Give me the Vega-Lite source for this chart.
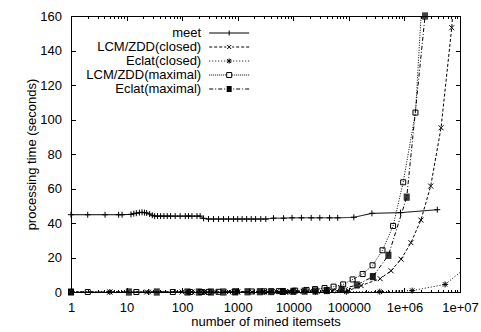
{
  "$schema": "https://vega.github.io/schema/vega-lite/v6.json",
  "width": 389,
  "height": 276,
  "autosize": {"type": "none"},
  "padding": {"left": 71, "top": 16, "right": 21, "bottom": 40},
  "background": "white",
  "config": {
    "view": {"stroke": "black", "strokeWidth": 1},
    "font": "Liberation Sans",
    "axis": {"labelFont": "Liberation Sans", "labelFontSize": 13, "titleFont": "Liberation Sans", "titleFontSize": 13, "titleFontWeight": "normal", "labelColor": "black", "titleColor": "black", "tickColor": "black", "tickWidth": 1, "domain": false, "grid": false}
  },
  "data": {"values": [
    {"s": "meet", "x": 1, "t": 44.8}, {"s": "meet", "x": 2, "t": 44.8}, {"s": "meet", "x": 4.1, "t": 44.8}, {"s": "meet", "x": 7.2, "t": 44.8}, {"s": "meet", "x": 8.3, "t": 44.8},
    {"s": "meet", "x": 12, "t": 45}, {"s": "meet", "x": 13.5, "t": 45.4}, {"s": "meet", "x": 15, "t": 45.7}, {"s": "meet", "x": 17, "t": 46}, {"s": "meet", "x": 19, "t": 46.2},
    {"s": "meet", "x": 21, "t": 46}, {"s": "meet", "x": 23, "t": 45.8}, {"s": "meet", "x": 26, "t": 45.2}, {"s": "meet", "x": 29, "t": 44.5}, {"s": "meet", "x": 32, "t": 44},
    {"s": "meet", "x": 36, "t": 44}, {"s": "meet", "x": 41, "t": 44}, {"s": "meet", "x": 47, "t": 44}, {"s": "meet", "x": 54, "t": 44}, {"s": "meet", "x": 62, "t": 44},
    {"s": "meet", "x": 75, "t": 44}, {"s": "meet", "x": 92, "t": 44}, {"s": "meet", "x": 114, "t": 44}, {"s": "meet", "x": 130, "t": 44}, {"s": "meet", "x": 150, "t": 44},
    {"s": "meet", "x": 185, "t": 44}, {"s": "meet", "x": 211, "t": 44}, {"s": "meet", "x": 243, "t": 42.7}, {"s": "meet", "x": 298, "t": 42.3}, {"s": "meet", "x": 367, "t": 42.3},
    {"s": "meet", "x": 452, "t": 42.3}, {"s": "meet", "x": 556, "t": 42.3}, {"s": "meet", "x": 684, "t": 42.3}, {"s": "meet", "x": 841, "t": 42.3}, {"s": "meet", "x": 1000, "t": 42.3},
    {"s": "meet", "x": 1200, "t": 42.3}, {"s": "meet", "x": 1450, "t": 42.3}, {"s": "meet", "x": 1750, "t": 42.3}, {"s": "meet", "x": 2100, "t": 42.3}, {"s": "meet", "x": 2600, "t": 42.3},
    {"s": "meet", "x": 3200, "t": 42.3}, {"s": "meet", "x": 4400, "t": 42.8}, {"s": "meet", "x": 6700, "t": 42.8}, {"s": "meet", "x": 9500, "t": 43}, {"s": "meet", "x": 14000, "t": 43},
    {"s": "meet", "x": 21000, "t": 43}, {"s": "meet", "x": 30000, "t": 43}, {"s": "meet", "x": 45000, "t": 43}, {"s": "meet", "x": 63000, "t": 43}, {"s": "meet", "x": 123000, "t": 43.3},
    {"s": "meet", "x": 260000, "t": 45.6}, {"s": "meet", "x": 850000, "t": 46}, {"s": "meet", "x": 3900000, "t": 47.7},

    {"s": "LCM/ZDD(closed)", "x": 1, "t": 0}, {"s": "LCM/ZDD(closed)", "x": 5, "t": 0}, {"s": "LCM/ZDD(closed)", "x": 23, "t": 0}, {"s": "LCM/ZDD(closed)", "x": 100, "t": 0},
    {"s": "LCM/ZDD(closed)", "x": 150, "t": 0}, {"s": "LCM/ZDD(closed)", "x": 250, "t": 0}, {"s": "LCM/ZDD(closed)", "x": 400, "t": 0}, {"s": "LCM/ZDD(closed)", "x": 700, "t": 0},
    {"s": "LCM/ZDD(closed)", "x": 1000, "t": 0.05}, {"s": "LCM/ZDD(closed)", "x": 1800, "t": 0.1}, {"s": "LCM/ZDD(closed)", "x": 3000, "t": 0.15}, {"s": "LCM/ZDD(closed)", "x": 5000, "t": 0.2},
    {"s": "LCM/ZDD(closed)", "x": 8500, "t": 0.3}, {"s": "LCM/ZDD(closed)", "x": 15000, "t": 0.4}, {"s": "LCM/ZDD(closed)", "x": 27000, "t": 0.5}, {"s": "LCM/ZDD(closed)", "x": 50000, "t": 0.6},
    {"s": "LCM/ZDD(closed)", "x": 98000, "t": 0.8}, {"s": "LCM/ZDD(closed)", "x": 166000, "t": 3.7}, {"s": "LCM/ZDD(closed)", "x": 366000, "t": 7.7}, {"s": "LCM/ZDD(closed)", "x": 575000, "t": 12.3},
    {"s": "LCM/ZDD(closed)", "x": 870000, "t": 19}, {"s": "LCM/ZDD(closed)", "x": 1310000, "t": 28.6}, {"s": "LCM/ZDD(closed)", "x": 1980000, "t": 41.7}, {"s": "LCM/ZDD(closed)", "x": 2970000, "t": 61.4},
    {"s": "LCM/ZDD(closed)", "x": 4560000, "t": 95.2}, {"s": "LCM/ZDD(closed)", "x": 7100000, "t": 153.2}, {"s": "LCM/ZDD(closed)", "x": 11000000, "t": 245},

    {"s": "Eclat(closed)", "x": 1, "t": 0}, {"s": "Eclat(closed)", "x": 5, "t": 0}, {"s": "Eclat(closed)", "x": 25, "t": 0}, {"s": "Eclat(closed)", "x": 130, "t": 0},
    {"s": "Eclat(closed)", "x": 250, "t": 0}, {"s": "Eclat(closed)", "x": 1000, "t": 0}, {"s": "Eclat(closed)", "x": 3000, "t": 0}, {"s": "Eclat(closed)", "x": 8000, "t": 0},
    {"s": "Eclat(closed)", "x": 25000, "t": 0}, {"s": "Eclat(closed)", "x": 90000, "t": 0.1}, {"s": "Eclat(closed)", "x": 360000, "t": 0.2}, {"s": "Eclat(closed)", "x": 1380000, "t": 0.8},
    {"s": "Eclat(closed)", "x": 5400000, "t": 4.4}, {"s": "Eclat(closed)", "x": 18000000, "t": 18},

    {"s": "LCM/ZDD(maximal)", "x": 1, "t": 0}, {"s": "LCM/ZDD(maximal)", "x": 2, "t": 0}, {"s": "LCM/ZDD(maximal)", "x": 15, "t": 0}, {"s": "LCM/ZDD(maximal)", "x": 68, "t": 0},
    {"s": "LCM/ZDD(maximal)", "x": 140, "t": 0}, {"s": "LCM/ZDD(maximal)", "x": 220, "t": 0}, {"s": "LCM/ZDD(maximal)", "x": 300, "t": 0.05}, {"s": "LCM/ZDD(maximal)", "x": 450, "t": 0.1},
    {"s": "LCM/ZDD(maximal)", "x": 900, "t": 0.2}, {"s": "LCM/ZDD(maximal)", "x": 1800, "t": 0.3}, {"s": "LCM/ZDD(maximal)", "x": 3000, "t": 0.4}, {"s": "LCM/ZDD(maximal)", "x": 5500, "t": 0.5},
    {"s": "LCM/ZDD(maximal)", "x": 10800, "t": 0.8}, {"s": "LCM/ZDD(maximal)", "x": 17300, "t": 1.2}, {"s": "LCM/ZDD(maximal)", "x": 24600, "t": 1.7}, {"s": "LCM/ZDD(maximal)", "x": 36500, "t": 2.3},
    {"s": "LCM/ZDD(maximal)", "x": 53000, "t": 3.1}, {"s": "LCM/ZDD(maximal)", "x": 79000, "t": 4.4}, {"s": "LCM/ZDD(maximal)", "x": 117000, "t": 7.3}, {"s": "LCM/ZDD(maximal)", "x": 177000, "t": 10.4},
    {"s": "LCM/ZDD(maximal)", "x": 267000, "t": 15.5}, {"s": "LCM/ZDD(maximal)", "x": 403000, "t": 24.2}, {"s": "LCM/ZDD(maximal)", "x": 625000, "t": 38.3}, {"s": "LCM/ZDD(maximal)", "x": 950000, "t": 63.6},
    {"s": "LCM/ZDD(maximal)", "x": 1580000, "t": 104}, {"s": "LCM/ZDD(maximal)", "x": 2400000, "t": 205},

    {"s": "Eclat(maximal)", "x": 1, "t": 0}, {"s": "Eclat(maximal)", "x": 11, "t": 0}, {"s": "Eclat(maximal)", "x": 35, "t": 0}, {"s": "Eclat(maximal)", "x": 125, "t": 0},
    {"s": "Eclat(maximal)", "x": 200, "t": 0}, {"s": "Eclat(maximal)", "x": 330, "t": 0}, {"s": "Eclat(maximal)", "x": 550, "t": 0}, {"s": "Eclat(maximal)", "x": 900, "t": 0.05},
    {"s": "Eclat(maximal)", "x": 1500, "t": 0.1}, {"s": "Eclat(maximal)", "x": 2500, "t": 0.15}, {"s": "Eclat(maximal)", "x": 4000, "t": 0.2}, {"s": "Eclat(maximal)", "x": 6500, "t": 0.3},
    {"s": "Eclat(maximal)", "x": 10000, "t": 0.4}, {"s": "Eclat(maximal)", "x": 16000, "t": 0.5}, {"s": "Eclat(maximal)", "x": 25000, "t": 0.6}, {"s": "Eclat(maximal)", "x": 40000, "t": 0.8},
    {"s": "Eclat(maximal)", "x": 74000, "t": 1.6}, {"s": "Eclat(maximal)", "x": 139000, "t": 4.1}, {"s": "Eclat(maximal)", "x": 270000, "t": 8.9}, {"s": "Eclat(maximal)", "x": 515000, "t": 21.3},
    {"s": "Eclat(maximal)", "x": 1100000, "t": 55}, {"s": "Eclat(maximal)", "x": 2350000, "t": 160}
  ]},
  "layer": [
    {
      "mark": {"type": "line", "clip": true, "color": "black", "strokeWidth": 1},
      "encoding": {
        "x": {"field": "x", "type": "quantitative",
          "scale": {"type": "log", "domain": [1, 10000000], "nice": false},
          "axis": {"orient": "bottom", "title": "number of mined itemsets", "titlePadding": 0.5, "labelPadding": 14, "labelFlush": false,
            "values": [1,2,3,4,5,6,7,8,9,10,20,30,40,50,60,70,80,90,100,200,300,400,500,600,700,800,900,1000,2000,3000,4000,5000,6000,7000,8000,9000,10000,20000,30000,40000,50000,60000,70000,80000,90000,100000,200000,300000,400000,500000,600000,700000,800000,900000,1000000,2000000,3000000,4000000,5000000,6000000,7000000,8000000,9000000,10000000],
            "labelExpr": "datum.value == 1000000 ? '1e+06' : datum.value == 10000000 ? '1e+07' : (indexof([1,10,100,1000,10000,100000], datum.value) >= 0 ? format(datum.value, 'd') : '')",
            "tickSize": {"condition": {"test": "indexof([1,10,100,1000,10000,100000,1000000,10000000], datum.value) >= 0", "value": -4.5}, "value": -2.5}}},
        "y": {"field": "t", "type": "quantitative",
          "scale": {"domain": [0, 160], "nice": false, "zero": false},
          "axis": {"orient": "left", "title": "processing time (seconds)", "titlePadding": 1, "labelPadding": 14, "values": [0,20,40,60,80,100,120,140,160], "tickSize": -4.5}},
        "strokeDash": {"field": "s", "type": "nominal",
          "scale": {"domain": ["Eclat(maximal)", "LCM/ZDD(maximal)", "Eclat(closed)", "LCM/ZDD(closed)", "meet"],
                    "range": [[4, 2, 1, 2], [1, 1.5], [1, 2], [3, 2], [1, 0]]},
          "legend": null}
      }
    },
    {
      "transform": [{"filter": "datum.t <= 160.5 && datum.x <= 10000000"}],
      "mark": {"type": "point", "size": 4, "stroke": "black", "strokeWidth": 1, "opacity": 1, "filled": false},
      "encoding": {
        "x": {"field": "x", "type": "quantitative",
          "scale": {"type": "log", "domain": [1, 10000000], "nice": false},
          "axis": {"orient": "top", "title": null, "labels": false,
            "values": [1,2,3,4,5,6,7,8,9,10,20,30,40,50,60,70,80,90,100,200,300,400,500,600,700,800,900,1000,2000,3000,4000,5000,6000,7000,8000,9000,10000,20000,30000,40000,50000,60000,70000,80000,90000,100000,200000,300000,400000,500000,600000,700000,800000,900000,1000000,2000000,3000000,4000000,5000000,6000000,7000000,8000000,9000000,10000000],
            "tickSize": {"condition": {"test": "indexof([1,10,100,1000,10000,100000,1000000,10000000], datum.value) >= 0", "value": -4.5}, "value": -2.5}}},
        "y": {"field": "t", "type": "quantitative",
          "scale": {"domain": [0, 160], "nice": false, "zero": false},
          "axis": {"orient": "right", "title": null, "labels": false, "values": [0,20,40,60,80,100,120,140,160], "tickSize": -4.5}},
        "shape": {"field": "s", "type": "nominal",
          "scale": {"domain": ["Eclat(maximal)", "LCM/ZDD(maximal)", "Eclat(closed)", "LCM/ZDD(closed)", "meet"],
                    "range": ["M-3,-3H3M-3,-2H3M-3,-1H3M-3,0H3M-3,1H3M-3,2H3M-3,3H3", "M-2.5,-2.5H2.5V2.5H-2.5Z", "M-3,0H3M0,-3V3M-2.2,-2.2L2.2,2.2M-2.2,2.2L2.2,-2.2", "M-2.5,-2.5L2.5,2.5M-2.5,2.5L2.5,-2.5", "M-3,0H3M0,-3V3"]},
          "legend": null}
      }
    },
    {
      "transform": [{"filter": "datum.x == 1"}],
      "mark": {"type": "point", "size": 4, "color": "black", "strokeWidth": 1, "opacity": 0, "filled": false},
      "encoding": {
        "x": {"field": "x", "type": "quantitative", "scale": {"type": "log", "domain": [1, 10000000], "nice": false}, "axis": null},
        "y": {"field": "t", "type": "quantitative", "scale": {"domain": [0, 160], "nice": false, "zero": false}, "axis": null},
        "shape": {"field": "s", "type": "nominal",
          "scale": {"domain": ["meet", "LCM/ZDD(closed)", "Eclat(closed)", "LCM/ZDD(maximal)", "Eclat(maximal)"],
                    "range": [
                      "M4,0H44M24,-2.5V2.5",
                      "M4,0H7M9,0H12M14,0H17M19,0H21M27,0H29M31,0H34M36,0H39M41,0H44M22,-2L26,2M22,2L26,-2",
                      "M4,0h1M7,0h1M10,0h1M13,0h1M16,0h1M19,0h1M28,0h1M31,0h1M34,0h1M37,0h1M40,0h1M43,0h1M21.5,0H26.5M24,-2.5V2.5M22,-2L26,2M22,2L26,-2",
                      "M4,0h1M6,0h1M8,0h1M10,0h1M12,0h1M14,0h1M16,0h1M18,0h1M20,0h1M27,0h1M29,0h1M31,0h1M33,0h1M35,0h1M37,0h1M39,0h1M41,0h1M43,0h1M21.5,-2.5H26.5V2.5H21.5Z",
                      "M4,0H8M10,0H11M13,0H17M19,0H20M28,0H29M31,0H35M37,0H38M40,0H44M21.5,-2.5H26.5M21.5,-1.5H26.5M21.5,-0.5H26.5M21.5,0.5H26.5M21.5,1.5H26.5M21.5,2.5H26.5"
                    ]},
          "legend": {
            "orient": "none", "legendX": 109.7, "legendY": 10.5, "title": null, "padding": 0,
            "labelFont": "Liberation Sans", "labelFontSize": 13, "labelColor": "black", "labelAlign": "right", "labelOffset": -10.5, "labelLimit": 300,
            "symbolSize": 4, "symbolOffset": 18, "symbolStrokeWidth": 1, "symbolStrokeColor": "black", "symbolFillColor": "transparent", "symbolOpacity": 1, "rowPadding": -3
          }}
      }
    }
  ],
  "resolve": {"axis": {"x": "independent", "y": "independent"}, "scale": {"shape": "independent"}}
}
